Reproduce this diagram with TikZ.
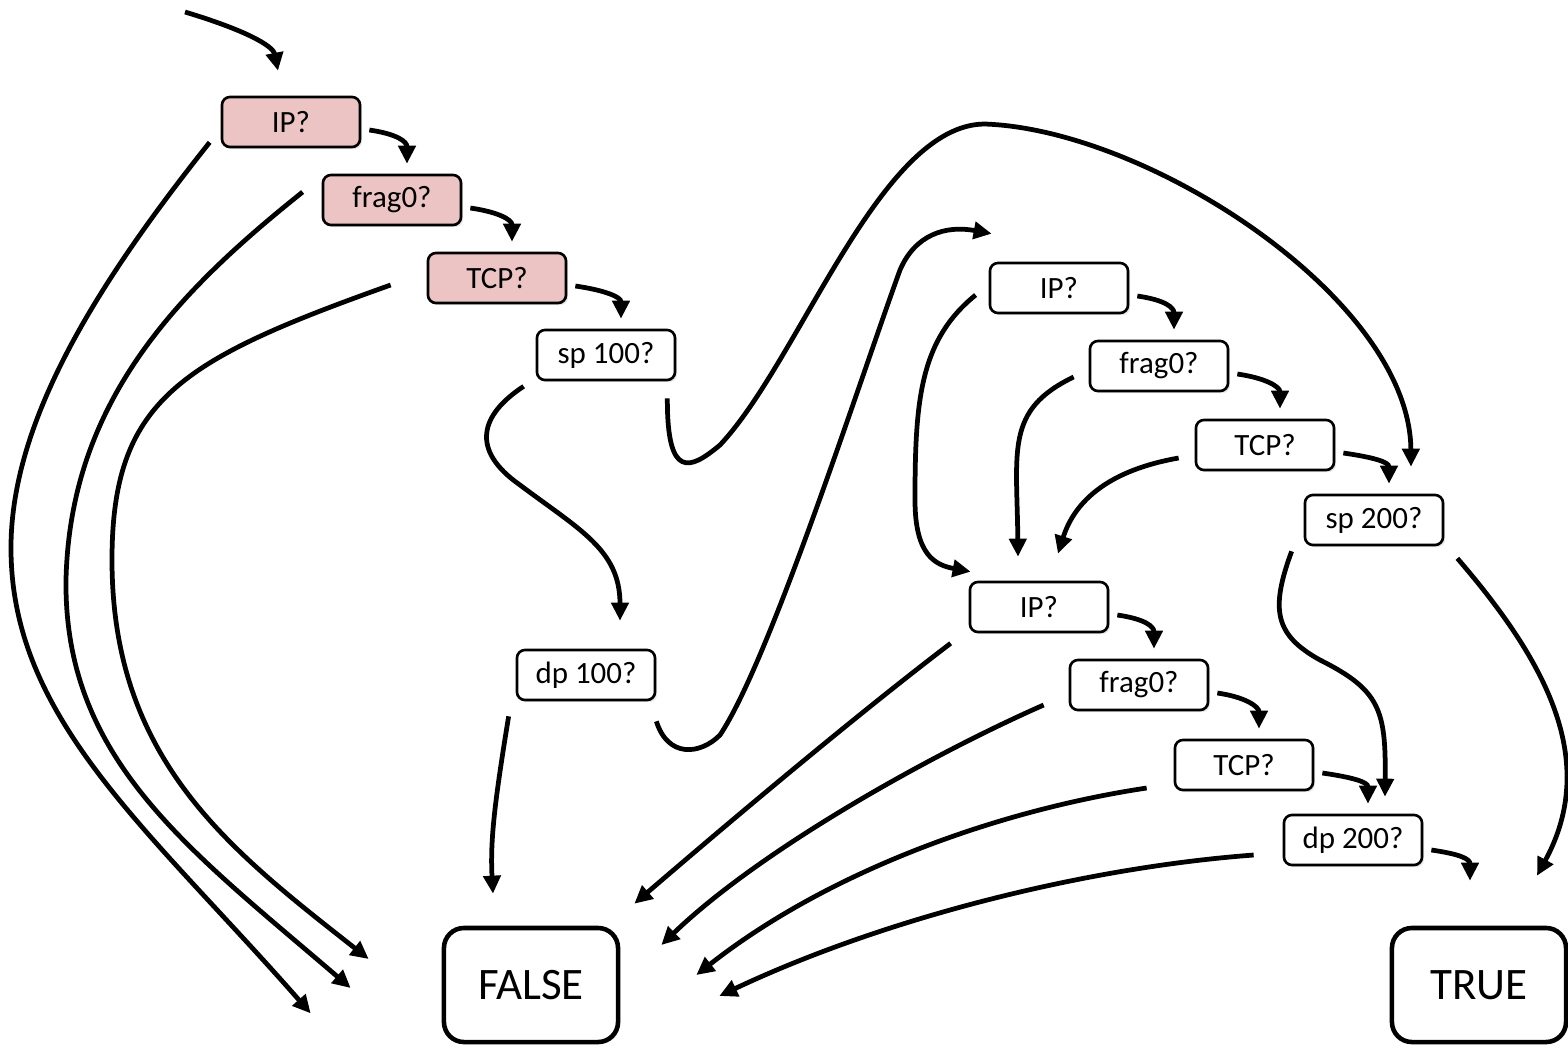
\documentclass[tikz,border=0pt]{standalone}
\usepackage{fontspec}
\setmainfont{Carlito}
\usepackage{xcolor}
\usepackage{tikz}
\usetikzlibrary{arrows.meta,calc,shadows}
\definecolor{rosefill}{RGB}{236,196,196}
\tikzset{
  box/.style={draw, rounded corners=0.08cm, line width=0.75pt, minimum width=1.38cm, minimum height=0.5cm, inner sep=0pt, fill=white,
    font=\fontsize{8.8}{10}\selectfont, drop shadow={shadow xshift=0.6pt, shadow yshift=-0.6pt, opacity=0.18}},
  hot/.style={box, fill=rosefill},
  leaf/.style={draw, rounded corners=0.2cm, line width=1.3pt, minimum width=1.74cm, minimum height=1.14cm, inner sep=0pt, fill=white,
    font=\fontsize{12.8}{15}\selectfont, drop shadow={shadow xshift=0.6pt, shadow yshift=-0.6pt, opacity=0.18}},
  arr/.style={-{Triangle[length=0.18cm,width=0.17cm]}, line width=1.35pt}}

\begin{document}
\begin{tikzpicture}[x=0.01cm, y=-0.01cm]
  \useasboundingbox (0,0) rectangle (1568,1047);
  % first chain
  \node[hot] (ipA) at (291,122) {IP?};
  \node[hot] (fragA) at (392,200) {frag0?};
  \node[hot] (tcpA) at (497,278) {TCP?};
  \node[box] (spA) at (606,355) {sp 100?};
  \node[box] (dpA) at (586,675) {dp 100?};
  % second chain
  \node[box] (ipB) at (1059,288) {IP?};
  \node[box] (fragB) at (1159,366) {frag0?};
  \node[box] (tcpB) at (1265,445) {TCP?};
  \node[box] (spB) at (1374,520) {sp 200?};
  % third chain
  \node[box] (ipC) at (1039,607) {IP?};
  \node[box] (fragC) at (1139,685) {frag0?};
  \node[box] (tcpC) at (1244,765) {TCP?};
  \node[box] (dpB) at (1353,840) {dp 200?};
  % leaves
  \node[leaf] (F) at (531,985) {FALSE};
  \node[leaf] (T) at (1479,985) {TRUE};

  % entry
  \coordinate (entry) at (185,12);
  \draw[arr] (entry) .. controls +(60,18) and +(-5,-25) .. ($(ipA.north)+(-13,-25)$);

  % short hops down each chain
  \foreach \a/\b in {ipA/fragA, fragA/tcpA, tcpA/spA, ipB/fragB, fragB/tcpB, tcpB/spB, ipC/fragC, fragC/tcpC, tcpC/dpB}
    \draw[arr] ($(\a.east)+(8,8)$) .. controls +(28,4) and +(0,-22) .. ($(\b.north)+(15,-10)$);
  \draw[arr] ($(dpB.east)+(8,10)$) .. controls +(28,4) and +(0,-22) .. ($(T.north)+(-9,-45)$);

  % first chain
  \draw[arr] ($(ipA.south west)+(-11,-6)$) .. controls (100,280) and (10,420) .. (11,550)
    .. controls (12,720) and (150,830) .. ($(F.south west)+(-131,-31)$);
  \draw[arr] ($(fragA.west)+(-19,-8)$) .. controls (180,290) and (70,400) .. (66,580)
    .. controls (64,760) and (190,850) .. ($(F.west)+(-91,3)$);
  \draw[arr] ($(tcpA.west)+(-36,7)$) .. controls (180,360) and (112,400) .. (112,560)
    .. controls (112,760) and (230,850) .. ($(F.west)+(-73,-26)$);
  \draw[arr] ($(spA.south west)+(-12,5)$) .. controls (480,415) and (470,450) .. (520,485)
    .. controls (580,530) and (620,550) .. ($(dpA.north)+(34,-28)$);
  \draw[arr] ($(spA.south east)+(-9,17)$) .. controls (667,480) and (690,470) .. (720,445)
    .. controls (800,360) and (880,124) .. (985,124)
    .. controls (1150,130) and (1410,300) .. ($(spB.north)+(37,-27)$);
  \draw[arr] ($(dpA.south west)+(-7,15)$) .. controls (495,800) and (490,840) .. ($(F.north)+(-38,-32)$);
  \draw[arr] ($(dpA.south east)+(0,20)$) .. controls (668,758) and (700,755) .. (720,735)
    .. controls (770,660) and (860,380) .. (900,270)
    .. controls (915,235) and (945,225) .. ($(ipB.north west)+(3,-28)$);

  % second chain
  \draw[arr] ($(ipB.west)+(-13,7)$) .. controls (920,340) and (915,400) .. (915,500)
    .. controls (915,555) and (935,565) .. ($(ipC.north west)+(2,-9)$);
  \draw[arr] ($(fragB.west)+(-15,11)$) .. controls (1005,410) and (1017,450) .. ($(ipC.north)+(-21,-24)$);
  \draw[arr] ($(tcpB.west)+(-16,13)$) .. controls (1110,470) and (1075,500) .. ($(ipC.north)+(19,-27)$);
  \draw[arr] ($(spB.south west)+(-12,5)$) .. controls (1270,610) and (1275,635) .. (1320,660)
    .. controls (1380,690) and (1386,710) .. ($(dpB.north)+(32,-17)$);
  \draw[arr] ($(spB.south east)+(13,12)$) .. controls (1545,660) and (1600,760) .. ($(T.north)+(58,-50)$);

  % third chain
  \draw[arr] ($(ipC.south west)+(-18,10)$) .. controls (850,720) and (720,830) .. ($(F.north east)+(14,-22)$);
  \draw[arr] ($(fragC.west)+(-25,20)$) .. controls (930,755) and (760,850) .. ($(F.east)+(41,-40)$);
  \draw[arr] ($(tcpC.west)+(-27,23)$) .. controls (1000,810) and (830,870) .. ($(F.east)+(76,-10)$);
  \draw[arr] ($(dpB.west)+(-29,15)$) .. controls (1080,868) and (880,920) .. ($(F.east)+(99,11)$);
\end{tikzpicture}
\end{document}
